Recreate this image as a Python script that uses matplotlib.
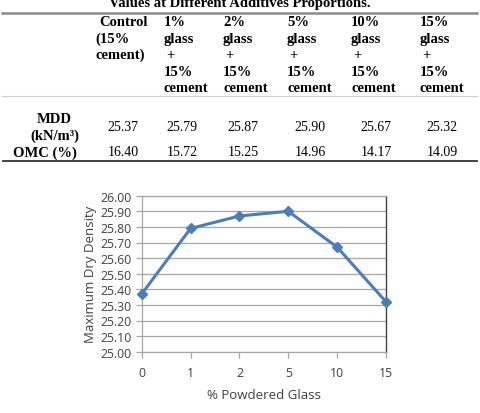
import matplotlib.pyplot as plt

# table data
col_heads = [
    ["Control", "(15%", "cement)"],
    ["1%", "glass", "+", "15%", "cement"],
    ["2%", "glass", "+", "15%", "cement"],
    ["5%", "glass", "+", "15%", "cement"],
    ["10%", "glass", "+", "15%", "cement"],
    ["15%", "glass", "+", "15%", "cement"],
]
mdd = [25.37, 25.79, 25.87, 25.90, 25.67, 25.32]
omc = [16.40, 15.72, 15.25, 14.96, 14.17, 14.09]

# chart data
glass_pct = ["0", "1", "2", "5", "10", "15"]
yticks = [25.00, 25.10, 25.20, 25.30, 25.40, 25.50, 25.60, 25.70, 25.80, 25.90, 26.00]

W, H = 480, 414
fig = plt.figure(figsize=(W / 100, H / 100), dpi=100)

# --- table drawn in pixel coordinates ---
tab = fig.add_axes([0, 0, 1, 1])
tab.set_xlim(0, W)
tab.set_ylim(H, 0)
tab.axis("off")

serif = "Liberation Serif"
tab.text(240, 3, "Values at Different Additives Proportions.", family=serif,
         weight="bold", fontsize=10.5, ha="center", va="center")
tab.plot([2, 477], [14, 14], color="#8a8a8a", lw=1.8)
tab.plot([2, 477], [97, 97], color="#d0d0d0", lw=0.8)
tab.plot([3, 477], [162, 162], color="#333333", lw=1.3)

head_x = [95, 164, 223, 287, 351, 420]
head_y = [23, 39, 55, 72, 88]
for hx, lines in zip(head_x, col_heads):
    for i, s in enumerate(lines):
        dx = 4 if s == "Control" else (2 if s == "+" else 0)
        tab.text(hx + dx, head_y[i], s, family=serif, weight="bold",
                 fontsize=10.5, ha="left", va="center")

val_x = [123, 182, 243, 310, 376, 442]
tab.text(54, 120, "MDD", family=serif, weight="bold", fontsize=10.5, ha="center", va="center")
tab.text(55, 136, "(kN/m³)", family=serif, weight="bold", fontsize=10.5,
         ha="center", va="center")
tab.text(45, 153, "OMC (%)", family=serif, weight="bold", fontsize=10.5, ha="center", va="center")
for vx, m, o in zip(val_x, mdd, omc):
    tab.text(vx, 128, f"{m:.2f}", family=serif, fontsize=10, ha="center", va="center")
    tab.text(vx, 153, f"{o:.2f}", family=serif, fontsize=10, ha="center", va="center")

# --- chart ---
left, right, top, bottom = 141.7, 386.0, 196.7, 352.7
ax = fig.add_axes([left / W, 1 - bottom / H, (right - left) / W, (bottom - top) / H])
xs = list(range(len(glass_pct)))
ax.plot(xs, mdd, color="#4a7ebb", lw=2.2, marker="D", markersize=5.5,
        markerfacecolor="#4a7ebb", markeredgecolor="#4a7ebb", clip_on=False, zorder=3)
ax.set_xlim(0, len(glass_pct) - 1)
ax.set_ylim(25.0, 26.0)
ax.set_xticks(xs)
ax.set_xticklabels(glass_pct)
ax.set_yticks(yticks)
ax.set_yticklabels([f"{v:.2f}" for v in yticks])
ax.grid(axis="y", color="#a6a6a6", lw=0.9)
ax.set_axisbelow(True)
for side in ["left", "bottom", "top"]:
    ax.spines[side].set_color("#a6a6a6")
    ax.spines[side].set_linewidth(0.9)
ax.spines["right"].set_color("#404040")
ax.spines["right"].set_linewidth(1.0)
ax.tick_params(colors="#a6a6a6", labelcolor="#404040", labelsize=8.8, length=4, width=0.9)
ax.tick_params(axis="x", pad=6)
for lab in ax.get_xticklabels() + ax.get_yticklabels():
    lab.set_family("Open Sans")
ax.set_xlabel("% Powdered Glass", family="Open Sans", fontsize=9.5, color="#404040", labelpad=7)
ax.set_ylabel("Maximum Dry Density", family="Open Sans", fontsize=9.5, color="#404040", labelpad=2)

fig.savefig("out.png", dpi=100)
